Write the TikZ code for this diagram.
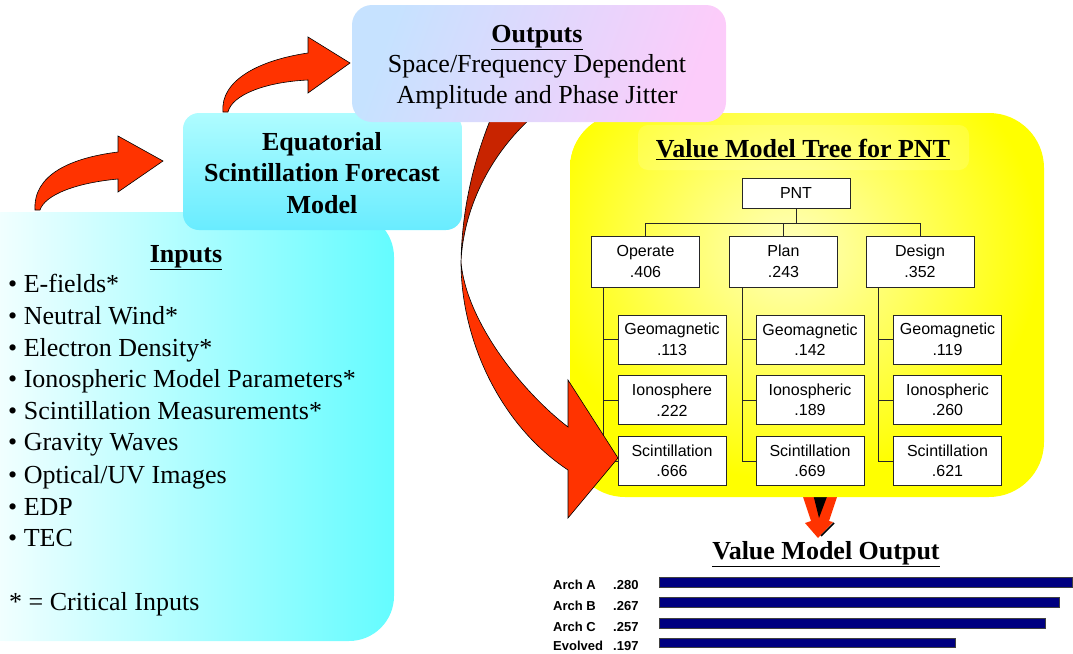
\documentclass[tikz,border=0pt]{standalone}
\usepackage{fontspec}
\setmainfont{Liberation Serif}
\newfontfamily\arialfont{Liberation Sans}
\usetikzlibrary{arrows, positioning, backgrounds}

\definecolor{arrowred}{RGB}{255,51,0}
\definecolor{arrowdark}{RGB}{200,36,0}
\definecolor{barblue}{RGB}{0,0,128}
\definecolor{inputcyan}{RGB}{100,252,255}
\definecolor{modeltop}{RGB}{175,252,255}
\definecolor{modelbottom}{RGB}{105,236,255}
\definecolor{outblue}{RGB}{198,226,255}
\definecolor{outpink}{RGB}{252,204,250}
\definecolor{treeyellow}{RGB}{255,255,0}
\definecolor{paleyellow}{RGB}{255,255,190}

\begin{document}
\begin{tikzpicture}[x=1pt, y=-1pt, font=\fontsize{26}{31.5}\selectfont]
    \tikzstyle{treebox}=[rectangle, draw=black!85, fill=white, align=center, inner sep=0pt, minimum width=108pt, minimum height=49pt, font=\arialfont\fontsize{16}{20.5}\selectfont]
    \tikzstyle{blockarrow}=[fill=arrowred, draw=black, line width=0.6pt]
    \tikzstyle{item}=[anchor=base west, inner sep=0pt]
    \tikzstyle{barlabel}=[anchor=base west, inner sep=0pt, font=\arialfont\bfseries\fontsize{13}{15}\selectfont]
    \tikzstyle{bar}=[fill=barblue, draw=black!75, line width=0.5pt]
    \tikzstyle{link}=[draw=black!85, line width=0.9pt]

\useasboundingbox (0,0) rectangle (1073,653);

\node[anchor=base]   (inputshead) at (186,262)   {\textbf{\underline{Inputs}}};
\node[item]          (efields) at (8,292)        {\textbullet\ E-fields*};
\node[item]          (wind) at (8,324)           {\textbullet\ Neutral Wind*};
\node[item]          (density) at (8,356)        {\textbullet\ Electron Density*};
\node[item]          (params) at (8,387)         {\textbullet\ Ionospheric Model Parameters*};
\node[item]          (measure) at (8,419)        {\textbullet\ Scintillation Measurements*};
\node[item]          (gravity) at (8,450)        {\textbullet\ Gravity Waves};
\node[item]          (images) at (8,483)         {\textbullet\ Optical/UV Images};
\node[item]          (edp) at (8,515)            {\textbullet\ EDP};
\node[item]          (tec) at (8,546)            {\textbullet\ TEC};
\node[item]          (critical) at (9,610)       {* = Critical Inputs};

\node[align=center, font=\bfseries\fontsize{26}{31.5}\selectfont] (modeltext) at (322,173) {Equatorial\\Scintillation Forecast\\Model};
\node[align=center, font=\fontsize{26}{30.2}\selectfont] (outtext) at (537,67) {\textbf{\underline{Outputs}}\\Space/Frequency Dependent\\Amplitude and Phase Jitter};

\node[anchor=base]   (treetitle) at (803,157)    {\textbf{\underline{Value Model Tree for PNT}}};
\node[treebox, minimum height=30pt] (pnt) at (796,193)  {PNT};
\node[treebox, minimum height=51pt] (operate) at (645.5,261.5) {Operate\\.406};
\node[treebox, minimum height=51pt] (plan) at (783.5,261.5)    {Plan\\.243};
\node[treebox, minimum height=51pt] (design) at (920,261.5)    {Design\\.352};
\node[treebox]       (geo1) at (672,339.5)       {Geomagnetic\\.113};
\node[treebox]       (iono1) at (672,400)        {Ionosphere\\.222};
\node[treebox]       (scint1) at (672,461)       {Scintillation\\.666};
\node[treebox]       (geo2) at (810,339.5)       {Geomagnetic\\.142};
\node[treebox]       (iono2) at (810,400)        {Ionospheric\\.189};
\node[treebox]       (scint2) at (810,461)       {Scintillation\\.669};
\node[treebox]       (geo3) at (947.5,339.5)     {Geomagnetic\\.119};
\node[treebox]       (iono3) at (947.5,400)      {Ionospheric\\.260};
\node[treebox]       (scint3) at (947.5,461)     {Scintillation\\.621};

\node[anchor=base]   (outputhead) at (826,559)   {\textbf{\underline{Value Model Output}}};
\node[barlabel]      (archa) at (553,589)        {Arch A};
\node[barlabel]      (archaval) at (613,589)     {.280};
\node[barlabel]      (archb) at (553,610)        {Arch B};
\node[barlabel]      (archbval) at (613,610)     {.267};
\node[barlabel]      (archc) at (553,631)        {Arch C};
\node[barlabel]      (archcval) at (613,631)     {.257};
\node[barlabel]      (evolved) at (553,650)      {Evolved};
\node[barlabel]      (evolvedval) at (613,650)   {.197};

\draw[bar] (659,577) rectangle (1072,587);
\draw[bar] (659,597) rectangle (1059,607);
\draw[bar] (659,618) rectangle (1045,628);
\draw[bar] (659,638) rectangle (955,647);

\begin{scope}[on background layer]
\shade[left color=white, right color=inputcyan, rounded corners=45pt] (-40,212) rectangle (394,641);
\filldraw[blockarrow] (35,210) .. controls (33,175) and (70,158) .. (118,152) -- (118,136) -- (163,161) -- (118,192) -- (118,179) .. controls (75,183) and (45,195) .. (40,210) -- cycle;
\filldraw[blockarrow] (223,112) .. controls (220,80) and (260,60) .. (308,53) -- (308,37) -- (350,63) -- (308,93) -- (308,80) .. controls (265,82) and (232,95) .. (228,112) -- cycle;
\shade[top color=modeltop, bottom color=modelbottom, rounded corners=16pt] (183,113) rectangle (462,230);

\fill[arrowred] (802,494) -- (838,494) -- (829,521) -- (833,522) -- (818,538) -- (805,523) -- (811,521) -- cycle;
\fill[black] (813,494) -- (828,494) -- (819,518) -- cycle;
\draw[black, line width=1.6pt] (821,536) -- (834,523);

\fill[treeyellow, rounded corners=55pt] (570,113) rectangle (1044,497);
\begin{scope}
\clip[rounded corners=55pt] (570,113) rectangle (1044,497);
\shade[inner color=paleyellow, outer color=treeyellow] (790,250) ellipse (250 and 230);
\end{scope}
\fill[rounded corners=10pt, white, opacity=0.15] (638,125) rectangle (969,170);

\draw[link] (pnt.south) -- ++(0,15) coordinate (split);
\draw[link] (split) -| (operate.north);
\draw[link] (split) -| (plan.north);
\draw[link] (split) -| (design.north);
\coordinate (trunk1) at ([xshift=12pt]operate.south west);
\coordinate (trunk2) at ([xshift=13pt]plan.south west);
\coordinate (trunk3) at ([xshift=13pt]design.south west);
\draw[link] (trunk1) |- (scint1.west);
\draw[link] (trunk1 |- geo1.west) -- (geo1.west);
\draw[link] (trunk1 |- iono1.west) -- (iono1.west);
\draw[link] (trunk2) |- (scint2.west);
\draw[link] (trunk2 |- geo2.west) -- (geo2.west);
\draw[link] (trunk2 |- iono2.west) -- (iono2.west);
\draw[link] (trunk3) |- (scint3.west);
\draw[link] (trunk3 |- geo3.west) -- (geo3.west);
\draw[link] (trunk3 |- iono3.west) -- (iono3.west);

\filldraw[fill=arrowdark, draw=black, line width=0.6pt] (491,118) .. controls (478,150) and (462,200) .. (461,262) .. controls (463,215) and (485,160) .. (531,118) -- cycle;
\filldraw[blockarrow] (461,262) .. controls (461,340) and (500,425) .. (568,470) -- (568,518) -- (618,458) -- (568,380) -- (568,427) .. controls (520,390) and (466,320) .. (461,262) -- cycle;

\shade[left color=outblue, right color=outpink, shading angle=70, rounded corners=20pt] (352,5) rectangle (726,122);
\end{scope}
\end{tikzpicture}
\end{document}
